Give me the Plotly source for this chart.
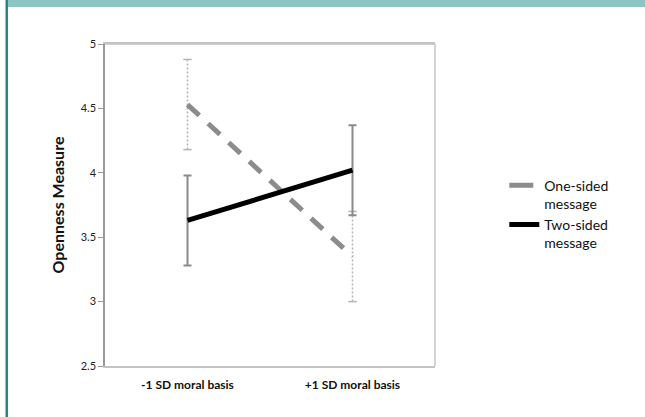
import plotly.graph_objects as go

categories = ["-1 SD moral basis", "+1 SD moral basis"]
one_sided = [4.53, 3.35]
one_sided_err = [0.35, 0.35]
two_sided = [3.63, 4.02]
two_sided_err = [0.35, 0.35]
y_ticks = [2.5, 3, 3.5, 4, 4.5, 5]
y_tick_labels = ["2.5", "3", "3.5", "4", "4.5", "5"]

FONT = "Lato, 'Open Sans', sans-serif"

fig = go.Figure()

# one-sided error bars (dotted, light gray)
for c, v, e in zip(categories, one_sided, one_sided_err):
    fig.add_trace(go.Scatter(
        x=[c, c], y=[v - e, v + e], mode="lines+markers",
        line=dict(color="#b5b5b5", width=1.5, dash="2px,2px"),
        marker=dict(symbol="line-ew", size=6, line=dict(color="#b5b5b5", width=1.5)),
        showlegend=False, hoverinfo="skip"))

fig.add_trace(go.Scatter(
    x=categories, y=one_sided, mode="lines", name="One-sided<br>message",
    showlegend=False,
    line=dict(color="#8c8c8c", width=5, dash="16px,12px")))

# legend-only entry with a single short dash
fig.add_trace(go.Scatter(
    x=[None], y=[None], mode="lines", name="One-sided<br>message",
    line=dict(color="#8c8c8c", width=5, dash="24px,12px")))

fig.add_trace(go.Scatter(
    x=categories, y=two_sided, mode="lines", name="Two-sided<br>message",
    line=dict(color="#000000", width=5),
    error_y=dict(type="data", array=two_sided_err, color="#8a8a8a",
                 thickness=2, width=4)))

fig.update_layout(
    width=645, height=417,
    margin=dict(l=105, r=210, t=44, b=51),
    paper_bgcolor="white", plot_bgcolor="white",
    font=dict(family=FONT, color="#222"),
    showlegend=True,
    legend=dict(x=1.21, y=0.61, xanchor="left", yanchor="top", valign="top",
                font=dict(size=14, family=FONT, color="#111"),
                bgcolor="rgba(0,0,0,0)", tracegroupgap=6),
    xaxis=dict(type="category", range=[-0.5, 1.5], showgrid=False,
               showline=True, linecolor="#c4c4c4", linewidth=1.5, mirror=True,
               ticks="", ticklabelstandoff=7,
               tickfont=dict(size=12, family=FONT, color="#111", weight="bold"),
               zeroline=False),
    yaxis=dict(range=[2.5, 5], tickvals=y_ticks, ticktext=y_tick_labels,
               showgrid=False, zeroline=False,
               showline=True, linecolor="#999", linewidth=1.5, mirror=False,
               ticks="outside", ticklen=5, tickcolor="#999", tickwidth=1,
               tickfont=dict(size=11, family=FONT, color="#222"),
               title=dict(text="Openness Measure", standoff=12,
                          font=dict(size=16, family=FONT, color="#111", weight="bold"))),
    shapes=[
        dict(type="line", xref="paper", yref="paper", x0=1, x1=1, y0=0, y1=1,
             line=dict(color="#c4c4c4", width=1.5)),
        dict(type="line", xref="paper", yref="paper", x0=0, x1=1, y0=1, y1=1,
             line=dict(color="#c4c4c4", width=1.5)),
    ],
)

# teal header band and left border (in pixel-based paper coordinates)
W, H = 645, 417
pl, pr, pt, pb = 105, 210, 44, 51
pw, ph = W - pl - pr, H - pt - pb
def px(x):
    return (x - pl) / pw
def py(y):
    return (H - pb - y) / ph
fig.add_shape(type="rect", xref="paper", yref="paper",
              x0=px(7), x1=px(646), y0=py(7), y1=py(-1),
              fillcolor="#8cc5c1", line=dict(width=0), layer="above")
fig.add_shape(type="rect", xref="paper", yref="paper",
              x0=px(5.5), x1=px(8), y0=py(418), y1=py(-1),
              fillcolor="#1e8b82", line=dict(width=0), layer="above")

fig.write_html("out.html", config={"displayModeBar": False},
               post_script="document.body.style.margin='0';document.body.style.overflow='hidden';")
